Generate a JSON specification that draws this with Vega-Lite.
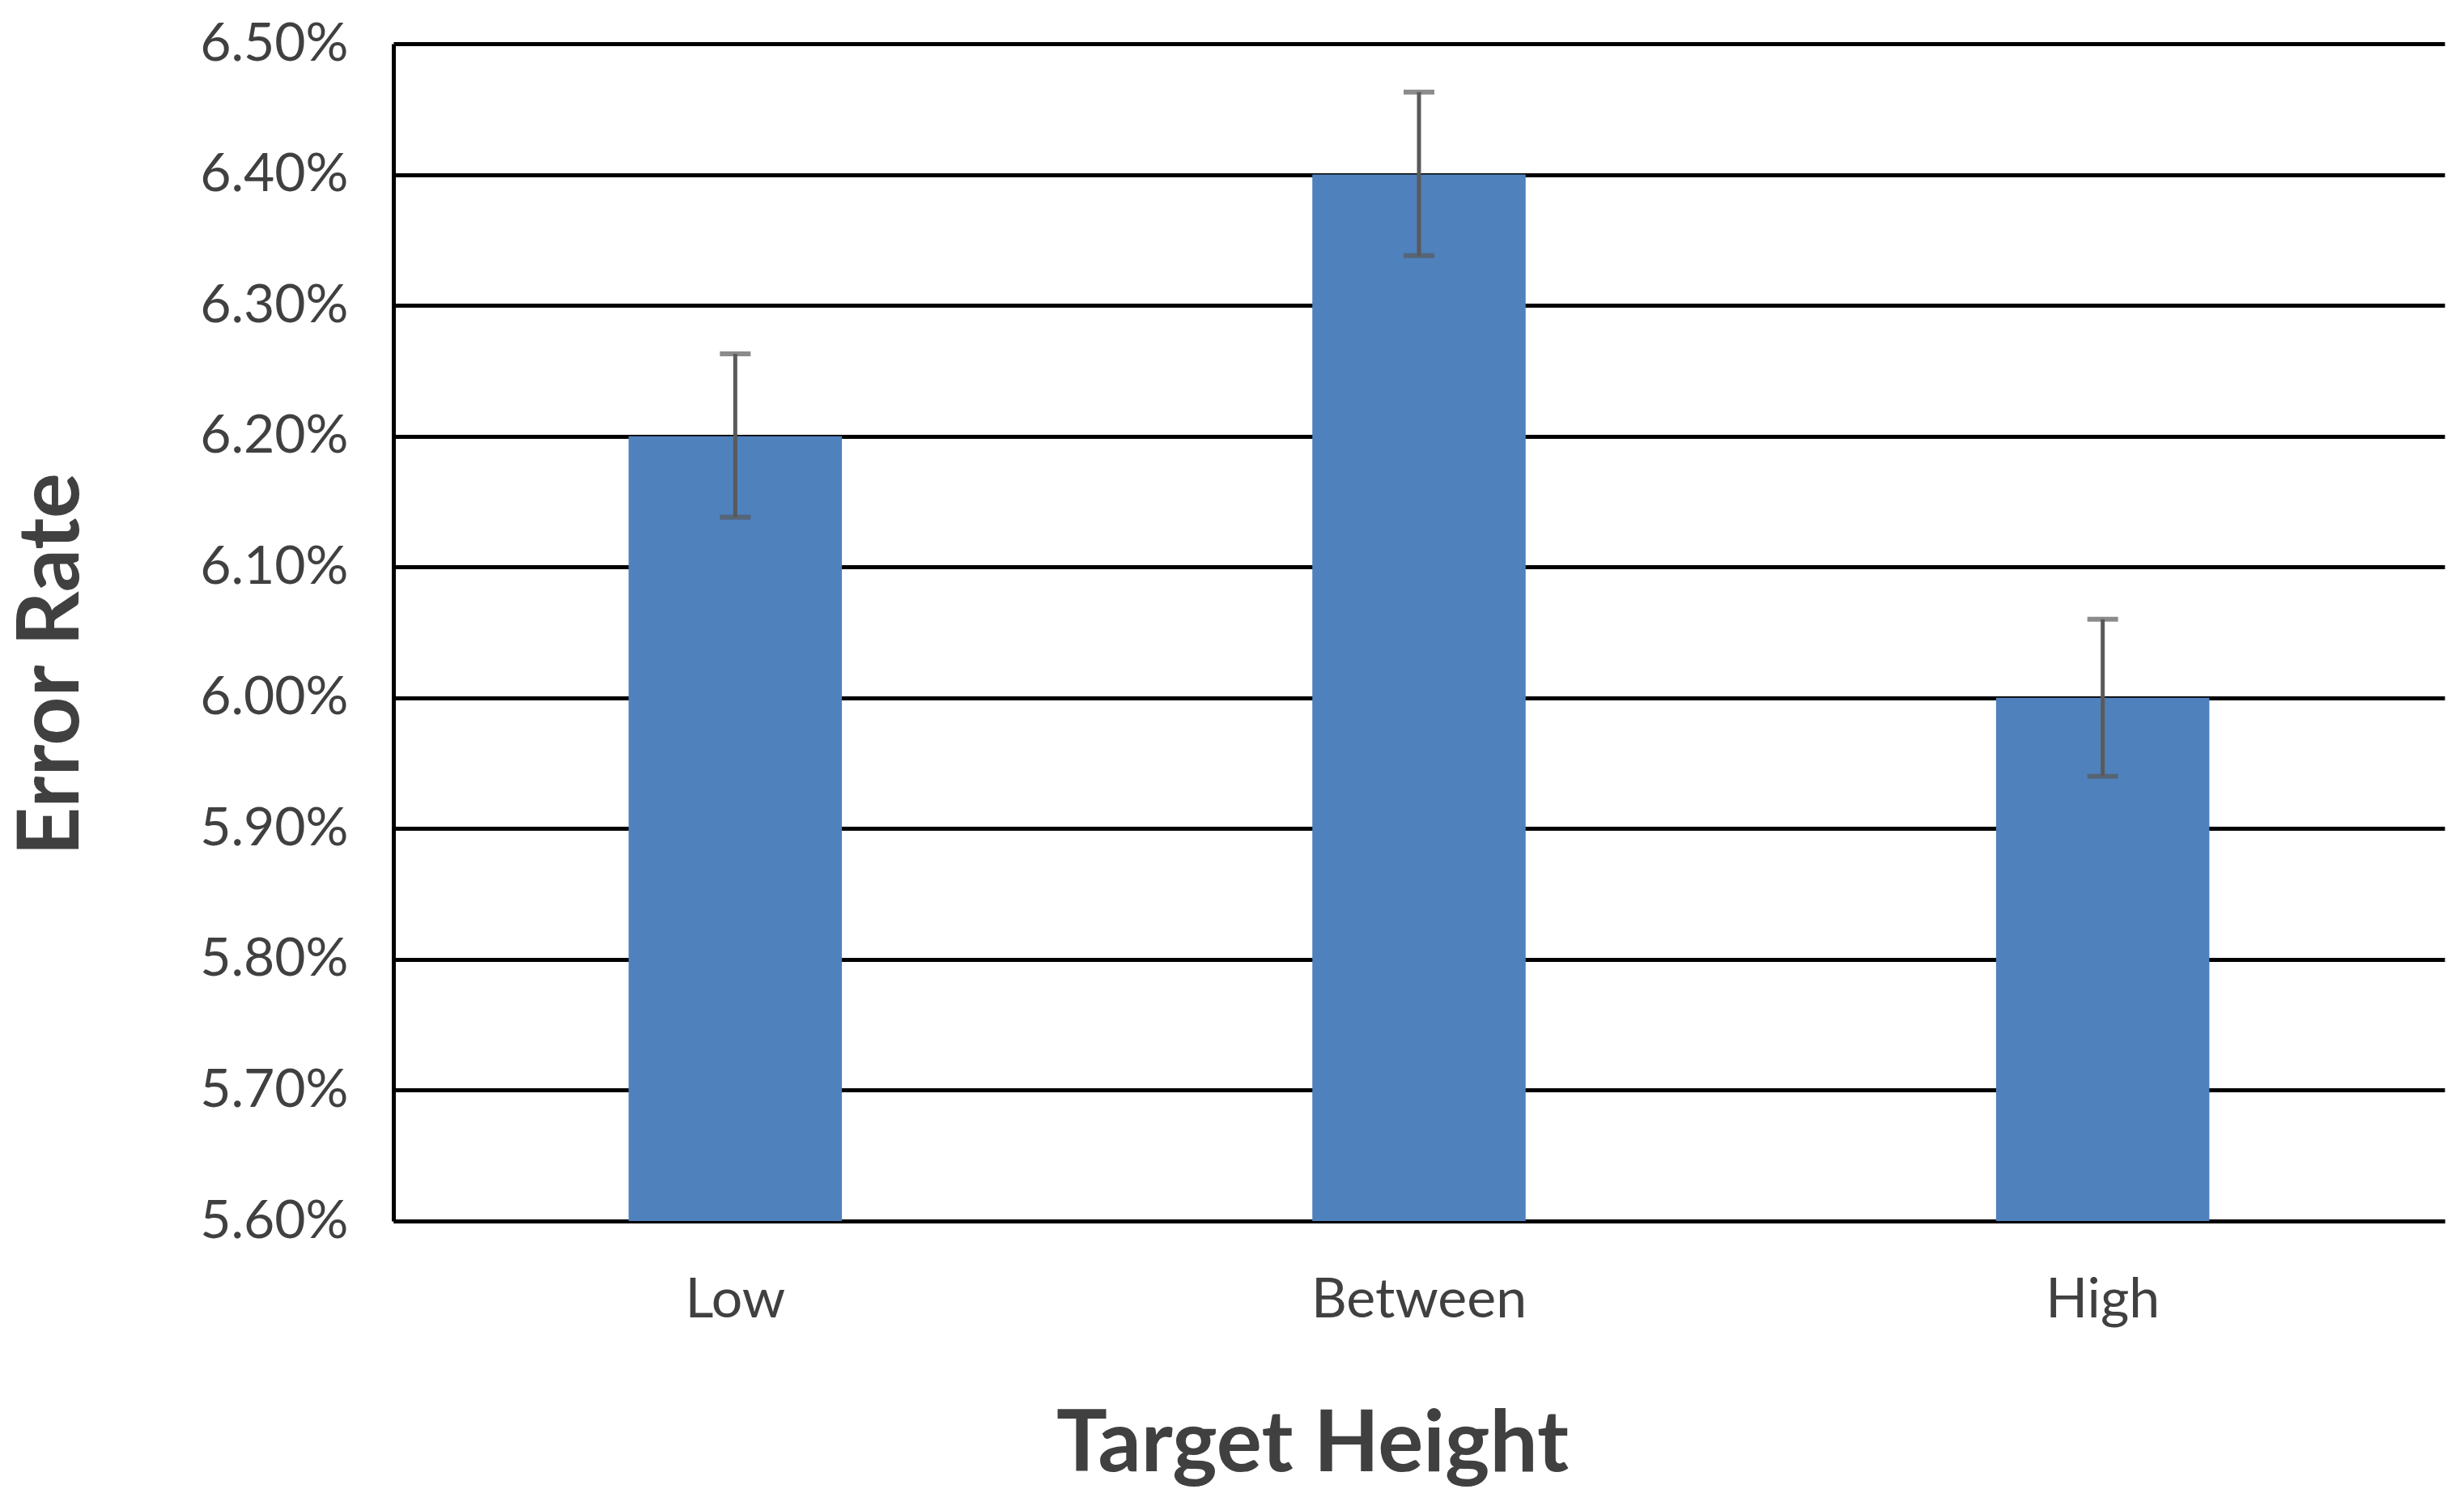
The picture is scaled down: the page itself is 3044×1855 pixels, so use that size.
{
  "$schema": "https://vega.github.io/schema/vega-lite/v6.json",
  "width": 2534,
  "height": 1454,
  "autosize": {"type": "none"},
  "padding": {"left": 486, "top": 54, "right": 24, "bottom": 347},
  "background": "white",
  "config": {
    "view": {"stroke": null},
    "font": "Lato"
  },
  "data": {
    "values": [
      {"height": "Low", "rate": 0.062, "lo": 0.06138, "hi": 0.06263},
      {"height": "Between", "rate": 0.064, "lo": 0.06338, "hi": 0.06463},
      {"height": "High", "rate": 0.060, "lo": 0.0594, "hi": 0.0606}
    ]
  },
  "encoding": {
    "x": {
      "field": "height",
      "type": "nominal",
      "sort": ["Low", "Between", "High"],
      "scale": {"paddingInner": 0, "paddingOuter": 0},
      "axis": {
        "title": "Target Height",
        "titleFont": "Lato",
        "titleFontSize": 105,
        "titleFontWeight": "bold",
        "titleColor": "#404040",
        "titleX": 1135,
        "titleY": 276,
        "titleAlign": "center",
        "titleBaseline": "middle",
        "labelAngle": 0,
        "labelFont": "Lato",
        "labelFontSize": 68,
        "labelColor": "#404040",
        "labelPadding": 64,
        "labelLimit": 0,
        "ticks": false,
        "domain": true,
        "domainColor": "#000000",
        "domainWidth": 5,
        "grid": false
      }
    }
  },
  "layer": [
    {
      "mark": {"type": "bar", "color": "#4F81BD", "width": {"band": 0.312}},
      "encoding": {
        "y": {
          "field": "rate",
          "type": "quantitative",
          "scale": {"domain": [0.056, 0.065], "zero": false, "nice": false},
          "axis": {
            "title": "Error Rate",
            "titleFont": "Lato",
            "titleFontSize": 105,
            "titleFontWeight": "bold",
            "titleColor": "#404040",
            "titleAngle": 270,
            "titleX": -422,
            "titleY": 766,
            "titleAlign": "center",
            "titleBaseline": "middle",
            "format": ".2%",
            "values": [0.056, 0.057, 0.058, 0.059, 0.06, 0.061, 0.062, 0.063, 0.064, 0.065],
            "labelFont": "Lato",
            "labelFontSize": 66,
            "labelColor": "#404040",
            "labelPadding": 56,
            "labelLimit": 0,
            "ticks": false,
            "domain": true,
            "domainColor": "#000000",
            "domainWidth": 5,
            "grid": true,
            "gridColor": "#000000",
            "gridWidth": 5,
            "gridOpacity": 1
          }
        },
        "y2": {"datum": 0.056}
      }
    },
    {
      "mark": {"type": "rule", "color": "#5A5A5A", "strokeWidth": 5},
      "encoding": {
        "y": {"field": "lo", "type": "quantitative"},
        "y2": {"field": "hi"}
      }
    },
    {
      "mark": {"type": "tick", "color": "#5A5A5A", "size": 38, "thickness": 6, "orient": "horizontal"},
      "encoding": {
        "y": {"field": "lo", "type": "quantitative"}
      }
    },
    {
      "mark": {"type": "tick", "color": "#5A5A5A", "size": 38, "thickness": 6, "orient": "horizontal"},
      "encoding": {
        "y": {"field": "hi", "type": "quantitative"}
      }
    }
  ]
}
